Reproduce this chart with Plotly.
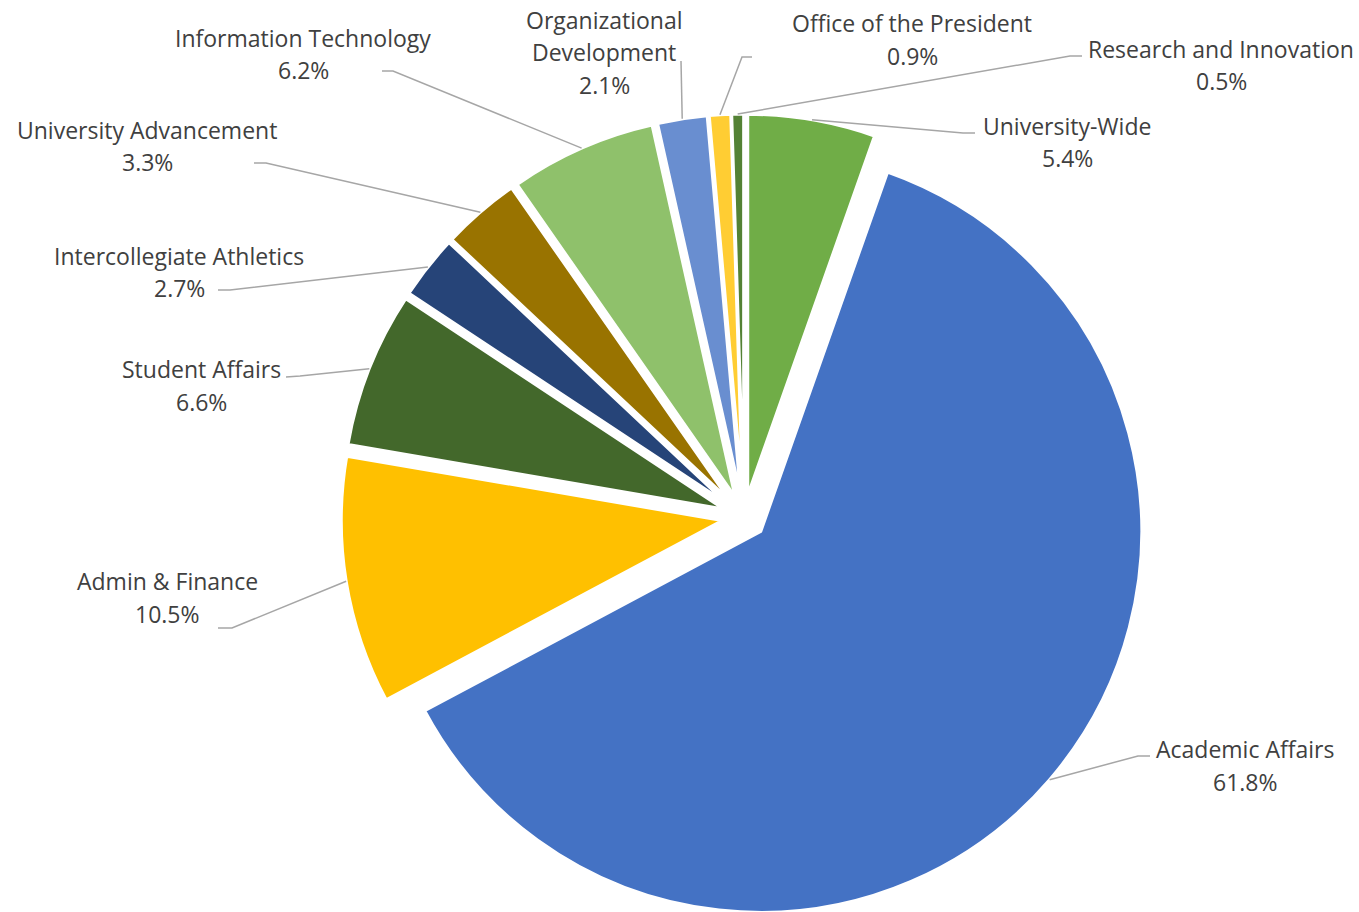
import math
import plotly.graph_objects as go

# ---------------- data ----------------
departments = [
    "University-Wide",
    "Academic Affairs",
    "Admin & Finance",
    "Student Affairs",
    "Intercollegiate Athletics",
    "University Advancement",
    "Information Technology",
    "Organizational Development",
    "Office of the President",
    "Research and Innovation",
]
shares = [5.4, 61.8, 10.5, 6.6, 2.7, 3.3, 6.2, 2.1, 0.9, 0.5]

colors = [
    "#70AD47", "#4472C4", "#FFC000", "#43682B", "#264478",
    "#997300", "#8FC16B", "#698ED0", "#FFCD33", "#548235",
]

# name split into display lines (layout choice)
name_lines = {"Organizational Development": ["Organizational", "Development"]}

# label layout in pixels: text centre x, first-line y, leader start, elbow
label_layout = {
    "University-Wide":            (1067, 126, (975, 133), (963, 133)),
    "Academic Affairs":           (1245, 749, (1150, 756), (1138, 756)),
    "Admin & Finance":            (167, 581, (218, 628), (232, 628)),
    "Student Affairs":            (201, 369, (286, 377), (300, 376)),
    "Intercollegiate Athletics":  (179, 256, (218, 290), (230, 290)),
    "University Advancement":     (147, 130, (254, 163), (266, 163)),
    "Information Technology":     (303, 38, (382, 71), (393, 71)),
    "Organizational Development": (604, 20, (681, 61), (681, 61)),
    "Office of the President":    (912, 23, (752, 57), (742, 57)),
    "Research and Innovation":    (1221, 49, (1082, 56), (1070, 56)),
}

# ---------------- geometry ----------------
W, H = 1359, 920             # page clips at 912
CX, CY, RD = 744, 517, 403   # pie centre and outer extent (px)
PULL = 0.058
LINE_H = 32.5

def px(x):
    return x / W

def py(y):
    return 1 - y / H

fig = go.Figure(
    go.Pie(
        labels=departments,
        values=shares,
        sort=False,
        direction="clockwise",
        rotation=0,
        pull=[PULL] * len(shares),
        marker=dict(colors=colors, line=dict(color="white", width=3)),
        textinfo="none",
        hoverinfo="label+percent",
        showlegend=False,
        domain=dict(x=[px(CX - RD), px(CX + RD)], y=[max(0, py(CY + RD)), py(CY - RD)]),
    )
)

total = sum(shares)
cum = 0.0
shapes = []
annotations = []
for name, v in zip(departments, shares):
    mid = (cum + v / 2) / total * 2 * math.pi
    cum += v
    ex = CX + RD * math.sin(mid)
    ey = CY - RD * math.cos(mid)
    tx, ty, (sx, sy), (bx, by) = label_layout[name]
    shapes.append(dict(
        type="path", xref="paper", yref="paper",
        path=f"M {px(sx)},{py(sy)} L {px(bx)},{py(by)} L {px(ex)},{py(ey)}",
        line=dict(color="#A6A6A6", width=1.5),
    ))
    lines = name_lines.get(name, [name]) + [f"{v:.1f}%"]
    for k, t in enumerate(lines):
        annotations.append(dict(
            x=px(tx), y=py(ty + k * LINE_H), xref="paper", yref="paper",
            text=t, showarrow=False, xanchor="center", yanchor="middle",
            font=dict(family="Open Sans", size=23, color="#404040"),
        ))

fig.update_layout(
    width=W, height=H,
    margin=dict(l=0, r=0, t=0, b=0),
    paper_bgcolor="white",
    plot_bgcolor="white",
    shapes=shapes,
    annotations=annotations,
)

fig.write_html(
    "out.html",
    config={"displayModeBar": False},
    post_script="document.body.style.margin='0';document.body.style.overflow='hidden';",
)
